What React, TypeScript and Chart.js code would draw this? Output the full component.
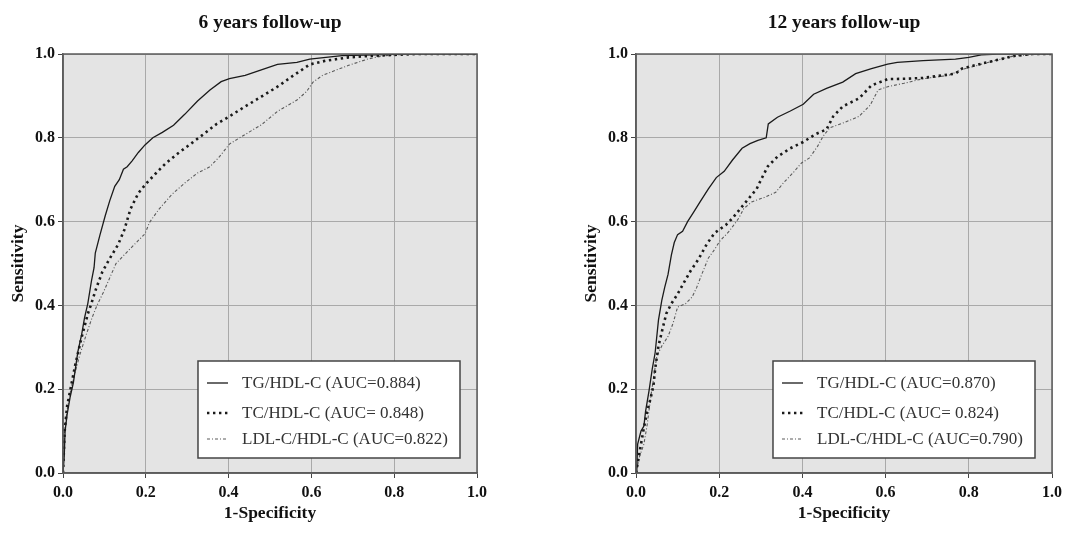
import React, { useEffect, useRef } from "react";
import { Chart, registerables } from "chart.js";

Chart.register(...registerables);

// ---------------- data ----------------
const TICK_VALUES = [0, 0.2, 0.4, 0.6, 0.8, 1.0];
const PANEL_TITLES = ["6 years follow-up", "12 years follow-up"];
const X_TITLE = "1-Specificity";
const Y_TITLE = "Sensitivity";
const LABELS_6 = ["TG/HDL-C (AUC=0.884)", "TC/HDL-C (AUC= 0.848)", "LDL-C/HDL-C (AUC=0.822)"];
const LABELS_12 = ["TG/HDL-C (AUC=0.870)", "TC/HDL-C (AUC= 0.824)", "LDL-C/HDL-C (AUC=0.790)"];

// [1-specificity, sensitivity]
const TG_6 = [[0,0],[0.003,0.04],[0.005,0.1],[0.01,0.14],[0.017,0.18],[0.025,0.215],[0.036,0.29],[0.045,0.33],[0.052,0.37],[0.06,0.405],[0.069,0.46],[0.075,0.49],[0.078,0.525],[0.089,0.567],[0.102,0.614],[0.113,0.65],[0.125,0.684],[0.136,0.7],[0.146,0.725],[0.155,0.731],[0.167,0.745],[0.182,0.765],[0.198,0.783],[0.217,0.8],[0.24,0.813],[0.267,0.83],[0.294,0.856],[0.325,0.888],[0.355,0.914],[0.382,0.934],[0.402,0.941],[0.44,0.949],[0.479,0.962],[0.518,0.975],[0.565,0.98],[0.596,0.988],[0.635,0.992],[0.674,0.996],[0.752,0.998],[0.82,1],[1,1]];
const TC_6 = [[0,0],[0.004,0.1],[0.01,0.16],[0.02,0.21],[0.03,0.26],[0.044,0.32],[0.06,0.38],[0.067,0.4],[0.08,0.44],[0.095,0.48],[0.113,0.512],[0.133,0.545],[0.148,0.58],[0.163,0.63],[0.182,0.668],[0.202,0.692],[0.225,0.716],[0.248,0.739],[0.278,0.763],[0.309,0.786],[0.34,0.809],[0.371,0.833],[0.402,0.851],[0.44,0.875],[0.479,0.898],[0.518,0.922],[0.557,0.949],[0.596,0.975],[0.635,0.984],[0.69,0.992],[0.752,0.996],[0.85,1],[1,1]];
const LDL_6 = [[0,0],[0.004,0.1],[0.01,0.15],[0.02,0.205],[0.04,0.28],[0.056,0.33],[0.07,0.37],[0.082,0.4],[0.097,0.43],[0.117,0.475],[0.128,0.5],[0.163,0.536],[0.198,0.571],[0.209,0.598],[0.232,0.63],[0.263,0.665],[0.294,0.692],[0.325,0.716],[0.355,0.731],[0.378,0.755],[0.402,0.785],[0.44,0.808],[0.479,0.831],[0.518,0.863],[0.565,0.89],[0.588,0.91],[0.604,0.933],[0.627,0.949],[0.658,0.961],[0.69,0.973],[0.736,0.988],[0.775,0.996],[0.85,1],[1,1]];

const TG_12 = [[0,0],[0.002,0.015],[0.004,0.069],[0.012,0.1],[0.019,0.112],[0.023,0.147],[0.031,0.194],[0.039,0.248],[0.046,0.287],[0.054,0.365],[0.062,0.412],[0.069,0.443],[0.077,0.474],[0.085,0.52],[0.092,0.55],[0.1,0.569],[0.112,0.577],[0.124,0.6],[0.139,0.623],[0.154,0.647],[0.174,0.678],[0.193,0.705],[0.212,0.72],[0.232,0.747],[0.255,0.775],[0.274,0.786],[0.293,0.794],[0.313,0.8],[0.318,0.833],[0.34,0.849],[0.371,0.864],[0.402,0.88],[0.427,0.904],[0.458,0.918],[0.497,0.933],[0.528,0.953],[0.566,0.965],[0.605,0.976],[0.628,0.98],[0.69,0.984],[0.768,0.988],[0.8,0.992],[0.83,0.998],[0.87,1],[1,1]];
const TC_12 = [[0,0],[0.004,0.023],[0.012,0.069],[0.019,0.108],[0.027,0.147],[0.035,0.178],[0.042,0.209],[0.046,0.248],[0.054,0.303],[0.065,0.349],[0.073,0.381],[0.085,0.404],[0.1,0.427],[0.115,0.454],[0.131,0.482],[0.15,0.51],[0.17,0.546],[0.189,0.573],[0.216,0.592],[0.232,0.608],[0.251,0.631],[0.27,0.654],[0.29,0.678],[0.301,0.701],[0.317,0.732],[0.34,0.755],[0.371,0.775],[0.402,0.79],[0.432,0.809],[0.458,0.82],[0.474,0.851],[0.497,0.875],[0.536,0.894],[0.566,0.925],[0.605,0.94],[0.651,0.941],[0.69,0.943],[0.768,0.953],[0.783,0.965],[0.814,0.973],[0.861,0.984],[0.907,0.995],[0.95,1],[1,1]];
const LDL_12 = [[0,0],[0.008,0.038],[0.019,0.069],[0.027,0.116],[0.035,0.178],[0.042,0.225],[0.05,0.279],[0.062,0.303],[0.077,0.326],[0.089,0.357],[0.1,0.396],[0.119,0.404],[0.135,0.42],[0.146,0.443],[0.158,0.474],[0.174,0.513],[0.19,0.535],[0.201,0.553],[0.224,0.577],[0.247,0.608],[0.259,0.631],[0.278,0.647],[0.309,0.658],[0.336,0.67],[0.355,0.693],[0.378,0.717],[0.398,0.74],[0.417,0.752],[0.436,0.779],[0.45,0.804],[0.466,0.824],[0.497,0.835],[0.536,0.851],[0.563,0.878],[0.582,0.914],[0.605,0.922],[0.644,0.93],[0.69,0.941],[0.752,0.949],[0.783,0.963],[0.814,0.971],[0.861,0.984],[0.907,0.995],[0.97,1],[1,1]];

// ---------------- styles ----------------
const FONT = "'Liberation Serif', 'Times New Roman', serif";
const LINE_STYLES = [
  { color: "#1a1a1a", width: 1.3, dash: [] as number[] },
  { color: "#1a1a1a", width: 2.6, dash: [2.4, 3.6] },
  { color: "#5a5a5a", width: 1.1, dash: [3, 2, 1, 2] },
];

const panelPlugin = {
  id: "panelDecor",
  beforeDraw(chart: any) {
    const { ctx, chartArea: ca } = chart;
    ctx.save();
    ctx.fillStyle = "#e4e4e4";
    ctx.fillRect(ca.left, ca.top, ca.right - ca.left, ca.bottom - ca.top);
    ctx.restore();
  },
  afterDraw(chart: any) {
    const { ctx, chartArea: ca } = chart;
    const o = chart.options.plugins.panelDecor;
    ctx.save();
    // frame
    ctx.strokeStyle = "#5c5c5c";
    ctx.lineWidth = 1.5;
    ctx.strokeRect(ca.left, ca.top, ca.right - ca.left, ca.bottom - ca.top);
    // title
    ctx.fillStyle = "#111";
    ctx.font = `bold 19.5px ${FONT}`;
    ctx.textAlign = "center";
    ctx.textBaseline = "middle";
    ctx.fillText(o.title, (ca.left + ca.right) / 2, 23);
    // legend
    ctx.font = `17px ${FONT}`;
    const ds = chart.data.datasets;
    let maxW = 0;
    ds.forEach((d: any) => { maxW = Math.max(maxW, ctx.measureText(d.label).width); });
    const boxW = 44 + maxW + 12;
    const boxH = 97;
    const bx = ca.right - 17 - boxW;
    const by = ca.bottom - 15 - boxH;
    ctx.fillStyle = "#ffffff";
    ctx.fillRect(bx, by, boxW, boxH);
    ctx.strokeStyle = "#444";
    ctx.lineWidth = 1.5;
    ctx.strokeRect(bx, by, boxW, boxH);
    const rows = [22, 52, 78];
    ds.forEach((d: any, i: number) => {
      const y = by + rows[i];
      ctx.save();
      ctx.strokeStyle = d.borderColor;
      ctx.lineWidth = d.borderWidth;
      ctx.setLineDash(d.borderDash || []);
      ctx.beginPath();
      ctx.moveTo(bx + 9, y);
      ctx.lineTo(bx + 30, y);
      ctx.stroke();
      ctx.restore();
      ctx.fillStyle = "#333";
      ctx.textAlign = "left";
      ctx.textBaseline = "middle";
      ctx.fillText(d.label, bx + 44, y + 1);
    });
    ctx.restore();
  },
};

type PanelProps = {
  title: string;
  labels: string[];
  series: number[][][];
  width: number;
  yAxisWidth: number;
  yTitlePad: number;
  rightPad: number;
};

function Panel({ title, labels, series, width, yAxisWidth, yTitlePad, rightPad }: PanelProps) {
  const ref = useRef<HTMLCanvasElement | null>(null);
  useEffect(() => {
    if (!ref.current) return;
    const tickFont = { family: FONT, size: 16, weight: "bold" as const };
    const titleFont = { family: FONT, size: 17.5, weight: "bold" as const };
    const setTicks = (s: any) => { s.ticks = TICK_VALUES.map((v) => ({ value: v })); };
    const chart = new Chart(ref.current, {
      type: "scatter",
      data: {
        datasets: series.map((pts, i) => ({
          label: labels[i],
          data: pts.map(([x, y]) => ({ x, y })),
          showLine: true,
          borderColor: LINE_STYLES[i].color,
          borderWidth: LINE_STYLES[i].width,
          borderDash: LINE_STYLES[i].dash,
          pointRadius: 0,
          pointHoverRadius: 0,
          fill: false,
          tension: 0,
        })),
      },
      options: {
        animation: false,
        responsive: false,
        devicePixelRatio: 1,
        layout: { padding: { top: 54, right: rightPad, bottom: 0, left: 0 } },
        plugins: {
          legend: { display: false },
          tooltip: { enabled: false },
          title: { display: false },
          panelDecor: { title },
        } as any,
        scales: {
          x: {
            type: "linear",
            min: 0,
            max: 1,
            afterBuildTicks: setTicks,
            afterFit: (s: any) => { s.height = 60; },
            ticks: {
              callback: (v: any) => Number(v).toFixed(1),
              font: tickFont,
              color: "#111",
              padding: 5,
              maxRotation: 0,
            },
            grid: { color: "#a9a9a9", lineWidth: 1, tickLength: 5, tickColor: "#444" },
            border: { display: true, color: "#5c5c5c", width: 1.5 },
            title: { display: true, text: X_TITLE, font: titleFont, color: "#111", padding: { top: 0, bottom: 9 } },
          },
          y: {
            type: "linear",
            min: 0,
            max: 1,
            afterBuildTicks: setTicks,
            afterFit: (s: any) => { s.width = yAxisWidth; },
            ticks: {
              callback: (v: any) => Number(v).toFixed(1),
              font: tickFont,
              color: "#111",
              padding: 3,
            },
            grid: { color: "#a9a9a9", lineWidth: 1, tickLength: 5, tickColor: "#444" },
            border: { display: true, color: "#5c5c5c", width: 1.5 },
            title: { display: true, text: Y_TITLE, font: titleFont, color: "#111", padding: { top: yTitlePad, bottom: 0 } },
          },
        },
      },
      plugins: [panelPlugin],
    } as any);
    return () => chart.destroy();
  }, []);
  return <canvas ref={ref} width={width} height={533} style={{ display: "block", width, height: 533 }} />;
}

export default function App() {
  return (
    <div style={{ position: "absolute", left: 0, top: 0, width: 1076, height: 533, background: "#fff" }}>
      <div style={{ position: "absolute", left: 0, top: 0 }}>
        <Panel title={PANEL_TITLES[0]} labels={LABELS_6} series={[TG_6, TC_6, LDL_6]} width={540} yAxisWidth={63} yTitlePad={8} rightPad={63} />
      </div>
      <div style={{ position: "absolute", left: 540, top: 0 }}>
        <Panel title={PANEL_TITLES[1]} labels={LABELS_12} series={[TG_12, TC_12, LDL_12]} width={536} yAxisWidth={96} yTitlePad={41} rightPad={24} />
      </div>
    </div>
  );
}
